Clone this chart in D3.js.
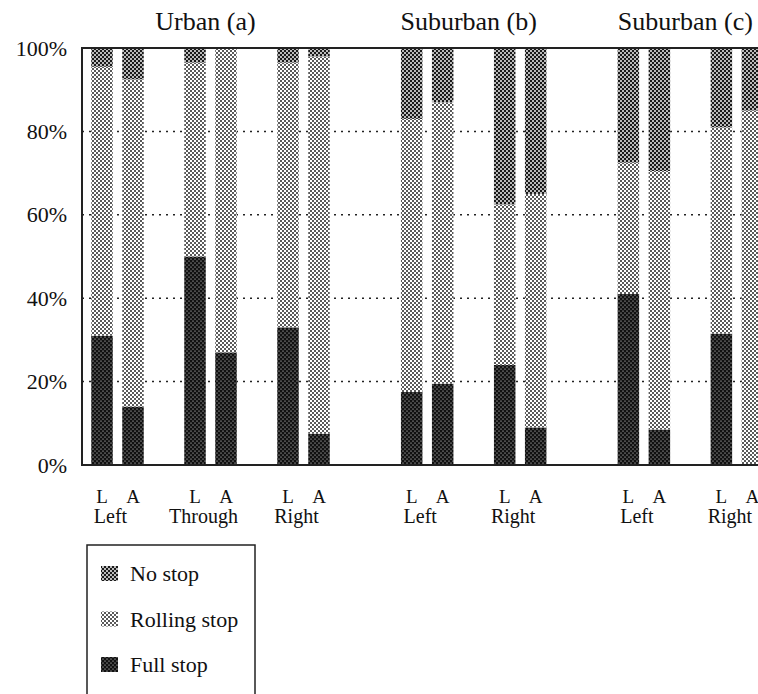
<!DOCTYPE html>
<html>
<head>
<meta charset="utf-8">
<script src="https://cdn.jsdelivr.net/npm/d3@7"></script>
<style>
  body { margin: 0; background: #fff; }
  text { font-family: "Liberation Serif", "Times New Roman", serif; fill: #111; }
</style>
</head>
<body>
<div id="chart"></div>
<script>
// data (percent of approaches)
const sections = ["Urban (a)", "Suburban (b)", "Suburban (c)"];
const groupSection = [0, 0, 0, 1, 1, 2, 2];
const groupLabels = ["Left", "Through", "Right", "Left", "Right", "Left", "Right"];
const barTypes = ["L", "A"];

const fullStopL = [31, 50, 33, 17.5, 24, 41, 31.5];
const rollingL  = [64.5, 46.5, 63.5, 65.5, 38.5, 31.5, 49.5];
const noStopL   = [4.5, 3.5, 3.5, 17, 37.5, 27.5, 19];

const fullStopA = [14, 27, 7.5, 19.5, 9, 8.5, 0];
const rollingA  = [78.5, 73, 90.5, 67.5, 56, 62, 85];
const noStopA   = [7.5, 0, 2, 13, 35, 29.5, 15];

const yTicks = [0, 20, 40, 60, 80, 100];
const legendLabels = ["No stop", "Rolling stop", "Full stop"];

//**** constants
const width = 758;
const height = 694;
const x0 = 82, yTop = 48, yBottom = 465;
const sectionGap = 0.33; // extra space between sections, in group steps

// rows for d3.stack
const rows = [];
groupLabels.forEach((g, i) => {
  rows.push({ group: i, type: "L", full: fullStopL[i], rolling: rollingL[i], none: noStopL[i] });
  rows.push({ group: i, type: "A", full: fullStopA[i], rolling: rollingA[i], none: noStopA[i] });
});
const keys = ["full", "rolling", "none"];
const series = d3.stack().keys(keys)(rows);

// SCALES
const y = d3.scaleLinear().domain([0, 100]).range([yBottom, yTop]);
const xSlot = d3.scaleLinear().domain([0, 1]).range([117.5, 210.5]);
const groupX = i => xSlot(i + groupSection[i] * sectionGap);
const xInner = d3.scaleBand().domain(barTypes).range([-26.25, 26.25]).paddingInner(0.306);

const svg = d3.select("#chart")
  .append("svg")
  .attr("width", width)
  .attr("height", height);

// halftone-like fills
const defs = svg.append("defs");
function pattern(id, bg, dot, r) {
  const p = defs.append("pattern")
    .attr("id", id)
    .attr("patternUnits", "userSpaceOnUse")
    .attr("width", 4)
    .attr("height", 4);
  p.append("rect").attr("width", 4).attr("height", 4).attr("fill", bg);
  [[1, 1], [3, 3]].forEach(c => {
    p.append("circle").attr("cx", c[0]).attr("cy", c[1]).attr("r", r).attr("fill", dot);
  });
}
pattern("pFull", "#111", "#fff", 0.55);
pattern("pRolling", "#fff", "#222", 1.0);
pattern("pNone", "#1a1a1a", "#fff", 0.95);
const fills = { full: "url(#pFull)", rolling: "url(#pRolling)", none: "url(#pNone)" };

// grid lines
svg.append("g")
  .selectAll("line")
  .data(yTicks.filter(d => d > 0 && d < 100))
  .join("line")
  .attr("x1", x0)
  .attr("x2", width)
  .attr("y1", d => y(d))
  .attr("y2", d => y(d))
  .attr("stroke", "#222")
  .attr("stroke-width", 1.5)
  .attr("stroke-dasharray", "2,5");

// bars
svg.append("g")
  .selectAll("g")
  .data(series)
  .join("g")
  .attr("fill", d => fills[d.key])
  .selectAll("rect")
  .data(d => d)
  .join("rect")
  .attr("x", d => groupX(d.data.group) + xInner(d.data.type))
  .attr("width", xInner.bandwidth())
  .attr("y", d => y(d[1]))
  .attr("height", d => y(d[0]) - y(d[1]));

// frame
svg.append("path")
  .attr("d", `M${width},${yTop}H${x0}V${yBottom}H${width}`)
  .attr("fill", "none")
  .attr("stroke", "#222")
  .attr("stroke-width", 2);

// y axis
const yAxis = svg.append("g")
  .attr("transform", `translate(${x0},0)`)
  .call(d3.axisLeft(y).tickValues(yTicks).tickFormat(d => d + "%").tickSize(0).tickPadding(15));
yAxis.select(".domain").remove();
yAxis.selectAll("text")
  .style("font-family", "'Liberation Serif', serif")
  .style("font-size", "22px")
  .attr("fill", "#111");

// L / A labels
svg.append("g")
  .selectAll("text")
  .data(rows)
  .join("text")
  .attr("x", d => groupX(d.group) + xInner(d.type) + xInner.bandwidth() / 2)
  .attr("y", 503)
  .attr("text-anchor", "middle")
  .style("font-size", "19px")
  .text(d => d.type);

// movement labels
svg.append("g")
  .selectAll("text")
  .data(groupLabels)
  .join("text")
  .attr("x", (d, i) => groupX(i) - 7)
  .attr("y", 523)
  .attr("text-anchor", "middle")
  .style("font-size", "20px")
  .text(d => d);

// section titles
svg.append("g")
  .selectAll("text")
  .data(sections)
  .join("text")
  .attr("x", (d, s) => {
    const idx = groupSection.map((g, i) => g === s ? i : -1).filter(i => i >= 0);
    return d3.mean(idx, i => groupX(i)) - 5;
  })
  .attr("y", 30)
  .attr("text-anchor", "middle")
  .style("font-size", "26px")
  .text(d => d);

// legend
const legend = svg.append("g");
legend.append("rect")
  .attr("x", 87)
  .attr("y", 545)
  .attr("width", 168)
  .attr("height", 170)
  .attr("fill", "none")
  .attr("stroke", "#222")
  .attr("stroke-width", 1.5);

const legendKeys = ["none", "rolling", "full"];
const legendY = d3.scalePoint().domain(legendKeys).range([573, 664]);

legend.selectAll("rect.sw")
  .data(legendKeys)
  .join("rect")
  .attr("class", "sw")
  .attr("x", 101)
  .attr("y", d => legendY(d) - 7)
  .attr("width", 17)
  .attr("height", 15)
  .attr("fill", d => fills[d]);

legend.selectAll("text")
  .data(legendKeys)
  .join("text")
  .attr("x", 130)
  .attr("y", d => legendY(d) + 8)
  .style("font-size", "22px")
  .text((d, i) => legendLabels[i]);
</script>
</body>
</html>
